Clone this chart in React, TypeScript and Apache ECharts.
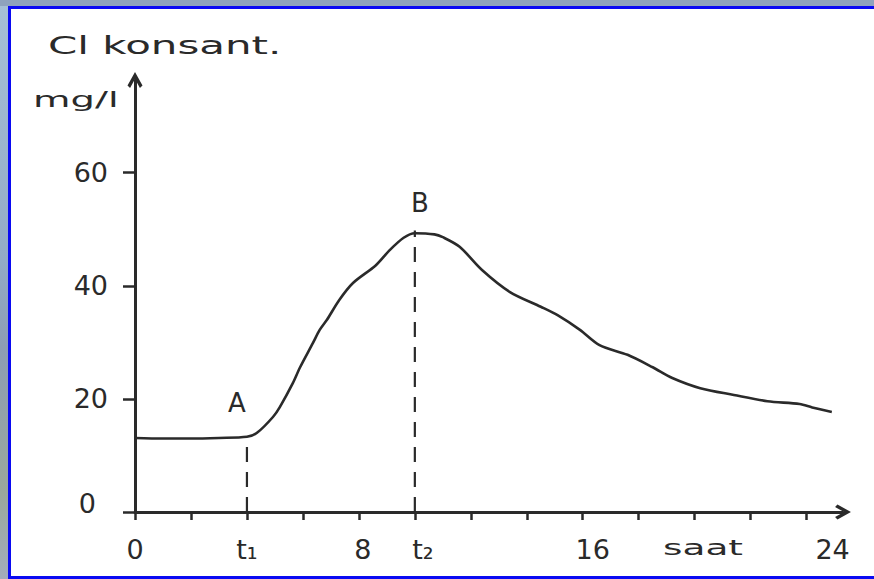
import React, { useEffect, useRef } from "react";
import * as echarts from "echarts";

// Chloride concentration (mg/l) over time (hours)
const hours = [0, 1, 2, 3, 4, 4.36, 4.93, 5.18, 5.64, 5.9, 6.36, 6.6, 6.86, 7.3, 7.79, 8.6, 9.1, 9.6, 10, 10.7, 11, 11.6, 12.4, 13.4, 14.5, 15.1, 15.9, 16.6, 17.6, 18.5, 19.2, 20.2, 21.4, 22.6, 23.75, 24.2, 24.9];
const conc = [13.1, 13.0, 13.0, 13.1, 13.3, 14.0, 16.8, 18.6, 22.8, 25.6, 29.9, 32.2, 34.0, 37.5, 40.5, 43.6, 46.3, 48.5, 49.3, 49.1, 48.6, 46.9, 42.8, 38.9, 36.3, 34.8, 32.2, 29.5, 27.8, 25.6, 23.7, 21.9, 20.7, 19.6, 19.1, 18.5, 17.7];

const T1 = 4;
const T2 = 10;
const pointLabels = ["A", "B"];
const pointHours = [T1, T2];
const pointValues = [13.3, 49.3];
const dashTopValues = [13.3, 49.8];

const xTickValues = [0, 2, 4, 6, 8, 10, 12, 14, 16, 18, 20, 22, 24];
const xLabelValues = [0, 4, 8, 10, 16, 24];
const xLabelTexts = ["0", "t\u2081", "8", "t\u2082", "16", "24"];
const yTickValues = [0, 20, 40, 60];
const yLabelTexts = ["0", "20", "40", "60"];

const yTitle = "Cl konsant.";
const yUnit = "mg/l";
const xUnit = "saat";

const INK = "#2a2a2a";
const FONT = "'DejaVu Sans', sans-serif";
const chevron = "path://M5,0 L10,9 L8.3,10.6 L5,4.6 L1.7,10.6 L0,9 Z";

export default function App() {
  const ref = useRef<HTMLDivElement>(null);
  useEffect(() => {
    if (!ref.current) return;
    const chart = echarts.init(ref.current, null, { renderer: "svg" });
    const xShift = [0, 0, 4, 8, 10, 26];
    const rich: any = {};
    xLabelValues.forEach((_, i) => {
      rich["x" + i] = {
        fontSize: 27,
        fontFamily: FONT,
        color: INK,
        padding: [0, 0, 0, xShift[i] * 2],
      };
    });
    const option: any = {
      animation: false,
      grid: { left: 135, right: 31, top: 80, bottom: 67 },
      xAxis: {
        type: "value",
        min: 0,
        max: 25.3,
        splitLine: { show: false },
        axisLine: {
          lineStyle: { color: INK, width: 3 },
          symbol: ["none", chevron],
          symbolSize: [15, 17],
        },
        axisTick: { customValues: xTickValues, length: 8, lineStyle: { color: INK, width: 2.5 } },
        axisLabel: {
          customValues: xLabelValues,
          margin: 24,
          formatter: (v: number) => {
            const i = xLabelValues.indexOf(v);
            return i >= 0 ? "{x" + i + "|" + xLabelTexts[i] + "}" : "";
          },
          rich,
        },
      },
      yAxis: {
        type: "value",
        min: 0,
        max: 76.4,
        splitLine: { show: false },
        axisLine: {
          lineStyle: { color: INK, width: 3 },
          symbol: ["none", chevron],
          symbolSize: [15, 17],
        },
        axisTick: { customValues: yTickValues, length: 12, lineStyle: { color: INK, width: 2.5 } },
        axisLabel: {
          customValues: yTickValues,
          margin: 27,
          formatter: (v: number) => {
            const i = yTickValues.indexOf(v);
            if (i < 0) return "";
            return i === 0 ? "{z|" + yLabelTexts[i] + "}" : "{n|" + yLabelTexts[i] + "}";
          },
          rich: {
            n: { fontSize: 27, fontFamily: FONT, color: INK },
            z: { fontSize: 27, fontFamily: FONT, color: INK, padding: [0, 12, 18, 0] },
          },
        },
      },
      graphic: [
        {
          type: "text",
          x: 48,
          y: 46,
          scaleX: 1.75,
          style: { text: yTitle, fontSize: 24, fontFamily: FONT, fill: INK, verticalAlign: "middle", align: "left" },
        },
        {
          type: "text",
          x: 33,
          y: 99,
          scaleX: 1.75,
          style: { text: yUnit, fontSize: 22, fontFamily: FONT, fill: INK, verticalAlign: "middle", align: "left" },
        },
        {
          type: "text",
          x: 663,
          y: 547,
          scaleX: 1.7,
          style: { text: xUnit, fontSize: 22, fontFamily: FONT, fill: INK, verticalAlign: "middle", align: "left" },
        },
      ],
      series: [
        {
          type: "line",
          data: hours.map((h, i) => [h, conc[i]]),
          smooth: 0.3,
          showSymbol: false,
          lineStyle: { color: INK, width: 2.6 },
          z: 3,
        },
        ...pointHours.map((h, i) => ({
          type: "line",
          data: [
            [h, 0],
            [h, dashTopValues[i]],
          ],
          showSymbol: false,
          lineStyle: { color: INK, width: 2.2, type: [15, 10] },
          z: 2,
        })),
        {
          type: "scatter",
          symbolSize: 0,
          itemStyle: { color: INK, opacity: 1 },
          data: pointHours.map((h, i) => ({
            value: [h, pointValues[i]],
            name: pointLabels[i],
            label: { offset: i === 0 ? [-10, -34] : [5, -30] },
          })),
          label: {
            show: true,
            position: "inside",
            formatter: (p: any) => p.name,
            fontSize: 26,
            fontFamily: FONT,
            color: INK,
            opacity: 1,
            textBorderWidth: 0,
          },
          z: 4,
        },
      ],
    };
    chart.setOption(option);
    return () => chart.dispose();
  }, []);

  return (
    <div
      style={{
        position: "fixed",
        left: 0,
        top: 0,
        width: 874,
        height: 579,
        overflow: "hidden",
        background: "linear-gradient(to bottom, #a6c0d6 0%, #93abc6 45%, #8d9db4 60%, #9aa89c 85%, #a3adbb 100%)",
      }}
    >
      <div
        style={{
          position: "absolute",
          left: 8,
          top: 6,
          width: 900,
          height: 567,
          border: "3px solid #0a0af2",
          background: "#ffffff",
        }}
      />
      <div
        style={{
          position: "absolute",
          left: 0,
          top: 0,
          width: 874,
          height: 579,
          background: "linear-gradient(to bottom, #8fa3bd 0px, #8fa3bd 6px, transparent 6px)",
          pointerEvents: "none",
        }}
      />
      <div ref={ref} style={{ position: "absolute", left: 0, top: 0, width: 874, height: 579 }} />
    </div>
  );
}
